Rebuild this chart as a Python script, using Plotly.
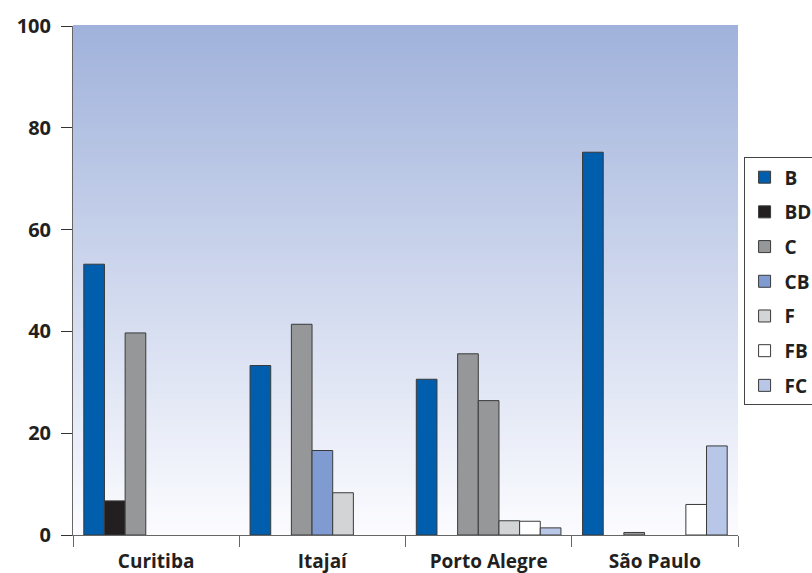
import plotly.graph_objects as go

categories = ["Curitiba", "Itajaí", "Porto Alegre", "São Paulo"]
series_names = ["B", "BD", "C", "CB", "F", "FB", "FC"]
B = [53.2, 33.3, 30.6, 75.2]
BD = [6.7, None, None, None]
C = [39.7, 41.4, 35.6, 0.5]
CB = [None, 16.6, 26.4, None]
F = [None, 8.3, 2.8, None]
FB = [None, None, 2.7, 6.0]
FC = [None, None, 1.4, 17.5]
y_ticks = [0, 20, 40, 60, 80, 100]

series_values = [B, BD, C, CB, F, FB, FC]
series_colors = ["#005eac", "#231f20", "#969799", "#7f9bd2", "#d3d4d5", "#ffffff", "#b8c6e7"]
# Porto Alegre CB bar appears gray in the reference
point_colors = {"CB": ["#7f9bd2", "#7f9bd2", "#969799", "#7f9bd2"]}

FONT = "Open Sans"
TXT = "#231f20"

fig = go.Figure()
for name, vals, col in zip(series_names, series_values, series_colors):
    fig.add_trace(go.Bar(
        name=name, x=categories, y=vals, legendgroup=name,
        marker=dict(color=point_colors.get(name, col), line=dict(color="#3a3a3a", width=1)),
    ))

# vertical gradient background in the plot area
shapes = []
n = 120
top = (160, 178, 219)
bot = (252, 252, 255)
for i in range(n):
    t = (i + 0.5) / n
    r, g, b = [round(top[k] + (bot[k] - top[k]) * t) for k in range(3)]
    shapes.append(dict(
        type="rect", xref="x domain", yref="y domain",
        x0=0, x1=1, y0=1 - (i + 1) / n, y1=1 - i / n + 0.002,
        fillcolor=f"rgb({r},{g},{b})", line=dict(width=0), layer="below",
    ))

fig.update_layout(
    width=812, height=573,
    margin=dict(l=73, r=74, t=26, b=38, autoexpand=False),
    paper_bgcolor="white", plot_bgcolor="rgba(0,0,0,0)",
    barmode="group", bargap=0.13, bargroupgap=0,
    shapes=shapes,
    font=dict(family=FONT, color=TXT),
    showlegend=True,
    legend=dict(
        x=1.0084, xanchor="left", y=0.742, yanchor="top",
        bgcolor="white", bordercolor="#444", borderwidth=1,
        font=dict(family=FONT, size=19, color=TXT, weight=700),
        tracegroupgap=7, itemwidth=30,
    ),
)
fig.update_xaxes(
    showgrid=False, showline=True, linecolor="#666", linewidth=1,
    ticks="outside", tickson="boundaries", ticklen=11, tickcolor="#666", tickwidth=1,
    tickfont=dict(family=FONT, size=19, color=TXT, weight=700),
    ticklabelstandoff=9,
    zeroline=False,
)
fig.update_yaxes(
    range=[0, 100], tickvals=y_ticks, showgrid=False, zeroline=False,
    showline=True, linecolor="#666", linewidth=1,
    ticks="outside", ticklen=11, tickcolor="#333", tickwidth=1,
    tickfont=dict(family=FONT, size=20, color=TXT, weight=700),
    ticklabelstandoff=6,
)

fig.write_html("out.html")
